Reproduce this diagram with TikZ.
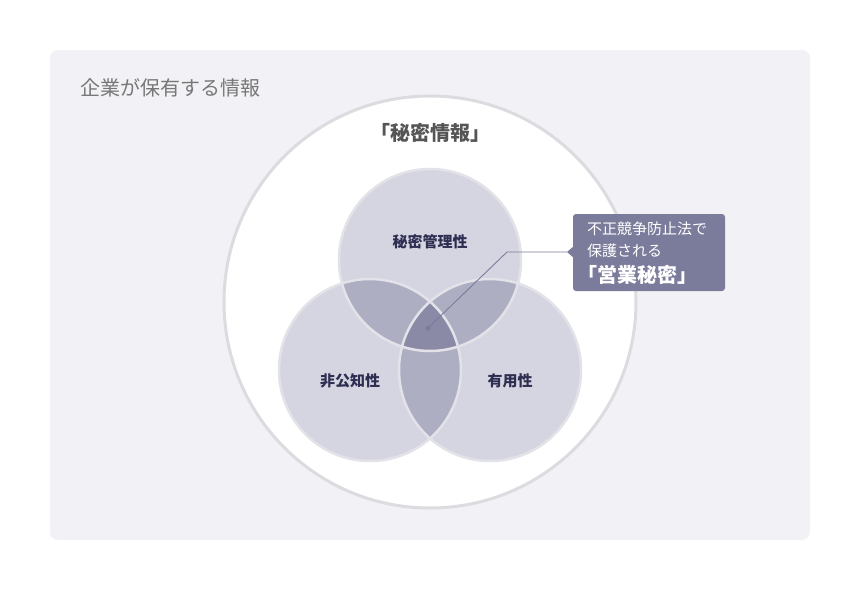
\documentclass[tikz,border=0pt]{standalone}
\usepackage{fontspec}
\newfontfamily\cjk{Noto Sans CJK JP}
\setmainfont{Noto Sans CJK JP}
\begin{document}
\begin{tikzpicture}[x=1pt,y=-1pt,
  lbl/.style={font=\cjk\bfseries\fontsize{15}{17}\selectfont, text=labelcol, inner sep=0},
  ring/.style={draw=ringcol, line width=2.5pt}]
\definecolor{panel}{HTML}{F2F2F6}
\definecolor{bigring}{HTML}{DCDCE0}
\definecolor{one}{HTML}{D5D5E1}
\definecolor{two}{HTML}{AEAEC3}
\definecolor{three}{HTML}{8A8AA7}
\definecolor{ringcol}{HTML}{E2E2E8}
\definecolor{labelcol}{HTML}{2E2E52}
\definecolor{callout}{HTML}{7B7B9B}
\definecolor{titlecol}{HTML}{777777}
\definecolor{headcol}{HTML}{555555}
\useasboundingbox (0,0) rectangle (860,590);
\fill[white] (0,0) rectangle (860,590);
\fill[panel, rounded corners=8pt] (50,50) rectangle (810,540);
\node[anchor=west, font=\cjk\fontsize{20}{22}\selectfont, text=titlecol, inner sep=0] (title) at (80,88) {企業が保有する情報};
\draw[fill=white, draw=bigring, line width=3pt] (430,302) circle (206);
\node[font=\cjk\bfseries\fontsize{20}{22}\selectfont, text=headcol, inner sep=0] (head) at (430,133) {「秘密情報」};
% circles
\coordinate (T) at (430,260);
\coordinate (L) at (370,370);
\coordinate (R) at (490,370);
\def\rr{91}
\fill[one] (T) circle (\rr);
\fill[one] (L) circle (\rr);
\fill[one] (R) circle (\rr);
\begin{scope}\clip (T) circle (\rr); \fill[two] (L) circle (\rr); \fill[two] (R) circle (\rr);\end{scope}
\begin{scope}\clip (L) circle (\rr); \fill[two] (R) circle (\rr);\end{scope}
\begin{scope}\clip (T) circle (\rr); \clip (L) circle (\rr); \fill[three] (R) circle (\rr);\end{scope}
\draw[ring] (T) circle (\rr);
\draw[ring] (L) circle (\rr);
\draw[ring] (R) circle (\rr);
\node[lbl] (secret) at (430,242) {秘密管理性};
\node[lbl] (nonpub) at (350,381) {非公知性};
\node[lbl] (useful) at (510,381) {有用性};
% callout
\fill[callout, rounded corners=3pt] (573,214) rectangle (725,291);
\fill[callout] (574,246) -- (567,252) -- (574,258) -- cycle;
\coordinate (box) at (567,252);
\coordinate (bend) at (507,252);
\fill[callout] (428,328) circle (2.5);
\coordinate (dot) at (428,328);
\draw[callout, line width=0.9pt] (dot) -- (bend) -- (box);
\node[anchor=west, font=\cjk\fontsize{15}{17}\selectfont, text=white, inner sep=0] (c1) at (587,229) {不正競争防止法で};
\node[anchor=west, font=\cjk\fontsize{15}{17}\selectfont, text=white, inner sep=0] (c2) at (587,251) {保護される};
\node[anchor=west, font=\cjk\bfseries\fontsize{20}{22}\selectfont, text=white, inner sep=0] (c3) at (577,275) {「営業秘密」};
\end{tikzpicture}
\end{document}
